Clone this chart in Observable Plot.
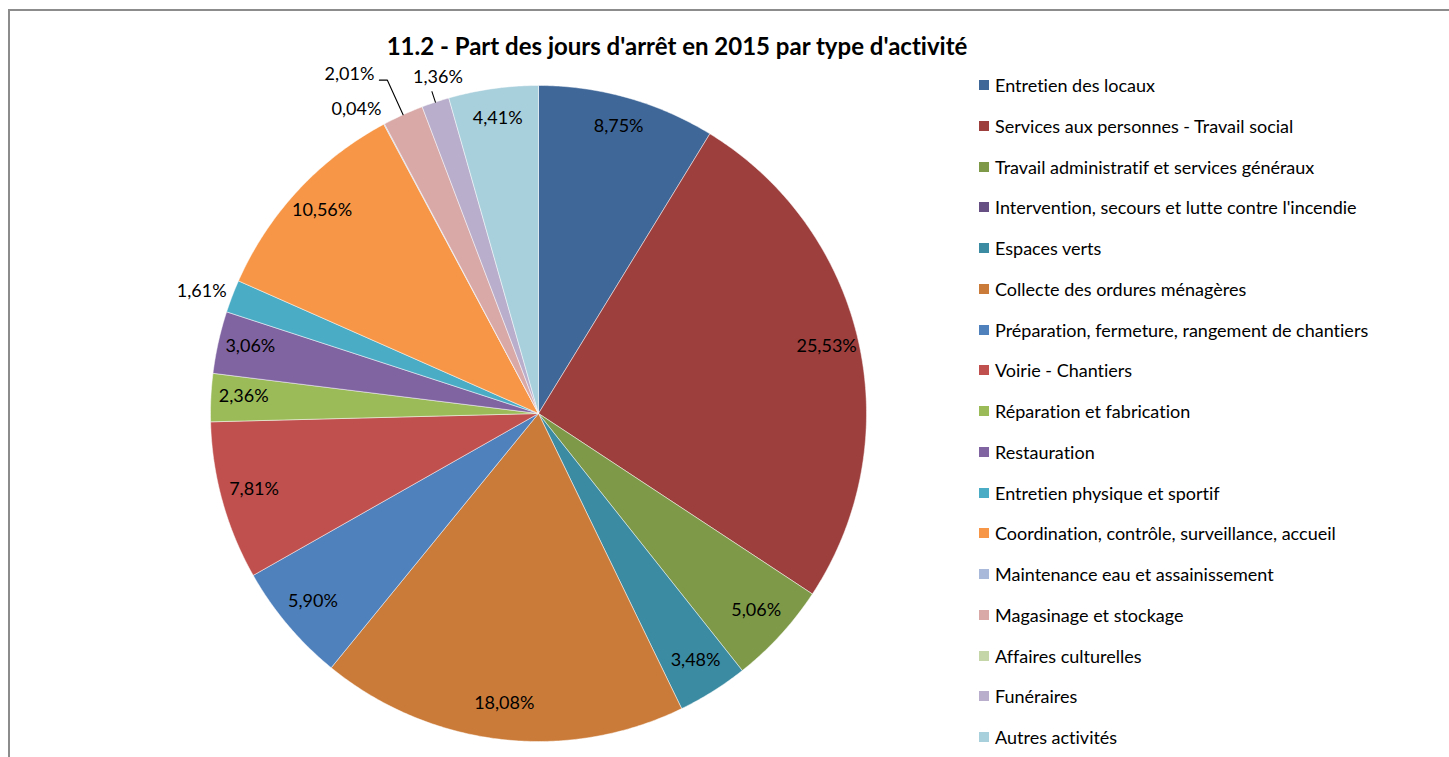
<!DOCTYPE html>
<html><head><meta charset="utf-8">
<script src="https://cdn.jsdelivr.net/npm/d3@7"></script>
<script src="https://cdn.jsdelivr.net/npm/@observablehq/plot@0.6"></script>
<style>
html,body{margin:0;padding:0;background:#fff;width:1449px;height:757px;overflow:hidden;font-family:Lato,sans-serif;font-variant-ligatures:none;}
#frame{position:absolute;left:8px;top:9px;width:1460px;height:770px;border-left:2px solid #8c8c8c;border-top:2px solid #8c8c8c;}
#title{position:absolute;left:0;width:1354px;top:33px;text-align:center;font-weight:bold;font-size:24px;line-height:26px;color:#000;white-space:nowrap;}
#chart{position:absolute;left:0;top:0;}
#chart svg text{font-variant-ligatures:none;}
#legend{position:absolute;left:979px;top:0;}
.item{position:absolute;left:0;height:20px;white-space:nowrap;}
.sw{position:absolute;left:0;top:5px;width:10px;height:10px;}
.lt{position:absolute;left:16px;top:0;font-size:18px;line-height:20px;color:#000;}
</style>
</head><body>
<div id="frame"></div>
<div id="chart"></div>
<div id="title">11.2 - Part des jours d'arrêt en 2015 par type d'activité</div>
<div id="legend"></div>
<script>
const names = [
  "Entretien des locaux",
  "Services aux personnes - Travail social",
  "Travail administratif et services généraux",
  "Intervention, secours et lutte contre l'incendie",
  "Espaces verts",
  "Collecte des ordures ménagères",
  "Préparation, fermeture, rangement de chantiers",
  "Voirie - Chantiers",
  "Réparation et fabrication",
  "Restauration",
  "Entretien physique et sportif",
  "Coordination, contrôle, surveillance, accueil",
  "Maintenance eau et assainissement",
  "Magasinage et stockage",
  "Affaires culturelles",
  "Funéraires",
  "Autres activités"
];
const values = [8.75, 25.53, 5.06, 0, 3.48, 18.08, 5.90, 7.81, 2.36, 3.06, 1.61, 10.56, 0.04, 2.01, 0, 1.36, 4.41];
const colors = [
  "#3f6798", "#9d3f3d", "#7e9a48", "#664f83", "#3b8ba2", "#cb7b39",
  "#4f81bd", "#c0504d", "#9bbb59", "#8064a2", "#4bacc6", "#f79646",
  "#a9b9d9", "#d9a9a8", "#c5d6a8", "#b9aecb", "#a8cfdc"
];

const data = names.map((name, i) => ({name, value: values[i]}));
const fmt = v => v.toFixed(2).replace(".", ",") + "%";

// layout
const R = 328; // px per unit (pie radius)
const callout = {"Magasinage et stockage": 38, "Funéraires": 11};

const arcs = d3.pie().sort(null).value(d => d.value)(data);

const slicePts = [];
for (const s of arcs) {
  if (s.data.value <= 0) continue;
  const n = Math.max(2, Math.ceil((s.endAngle - s.startAngle) / (Math.PI / 360)));
  slicePts.push({name: s.data.name, x: 0, y: 0});
  for (let i = 0; i <= n; i++) {
    const a = s.startAngle + (s.endAngle - s.startAngle) * i / n;
    slicePts.push({name: s.data.name, x: Math.sin(a), y: -Math.cos(a)});
  }
  slicePts.push({name: s.data.name, x: 0, y: 0});
}

const ctx = document.createElement("canvas").getContext("2d");
ctx.font = "18px Lato";
const halfH = 7;
const labels = [], leaders = [];
for (const s of arcs) {
  const v = s.data.value;
  if (v <= 0) continue;
  const a = (s.startAngle + s.endAngle) / 2, dx = Math.sin(a), dy = -Math.cos(a);
  const t = fmt(v);
  const hw = ctx.measureText(t).width / 2;
  if (v >= 2.2) { labels.push({x: 0.9 * dx, y: 0.9 * dy, t}); continue; }
  const ex = R * dx, ey = R * dy;
  const ext = callout[s.data.name];
  if (ext == null) {
    const g = 6, px = ex + dx * g, py = ey + dy * g;
    const hx = Math.abs(dx) < 0.3 ? 0 : Math.sign(dx) * hw;
    const hy = Math.abs(dy) < 0.4 ? 0 : Math.sign(dy) * halfH;
    labels.push({x: (px + hx) / R, y: (py + hy) / R, t});
  } else {
    const qx = ex + dx * ext, qy = ey + dy * ext;
    const id = s.data.name;
    if (Math.abs(dx) >= 0.35) {
      const sx = Math.sign(dx), hx2 = qx + sx * 8;
      leaders.push({id, x: ex / R, y: ey / R}, {id, x: qx / R, y: qy / R}, {id, x: hx2 / R, y: qy / R});
      labels.push({x: (hx2 + sx * (5 + hw)) / R, y: (qy - 3) / R, t});
    } else {
      const sy = Math.sign(dy);
      leaders.push({id, x: ex / R, y: ey / R}, {id, x: qx / R, y: qy / R});
      labels.push({x: (qx + 6) / R, y: (qy + sy * (4 + halfH)) / R, t});
    }
  }
}

const chart = Plot.plot({
  width: 1449,
  height: 757,
  margin: 0,
  x: {domain: [-1, 1], range: [210, 866], axis: null},
  y: {domain: [-1, 1], range: [85, 741], axis: null},
  color: {domain: names, range: colors},
  style: {fontFamily: "Lato, sans-serif", fontSize: "18px", background: "transparent", overflow: "visible"},
  marks: [
    Plot.line(slicePts, {x: "x", y: "y", z: "name", fill: "name", stroke: "#ffffff", strokeWidth: 0.6, strokeOpacity: 0.8, curve: "linear"}),
    Plot.line(leaders, {x: "x", y: "y", z: "id", stroke: "#000", strokeWidth: 1.1, curve: "linear"}),
    Plot.text(labels, {x: "x", y: "y", text: "t", fill: "#000", fontSize: 18, dy: -3})
  ]
});
document.getElementById("chart").appendChild(chart);

const legend = document.getElementById("legend");
names.forEach((name, i) => {
  const cy = 85 + i * 40.75;
  const it = document.createElement("div");
  it.className = "item";
  it.style.top = (cy - 10) + "px";
  const sw = document.createElement("div");
  sw.className = "sw";
  sw.style.background = colors[i];
  const lt = document.createElement("div");
  lt.className = "lt";
  lt.textContent = name;
  it.appendChild(sw); it.appendChild(lt);
  legend.appendChild(it);
});
</script>
</body></html>
